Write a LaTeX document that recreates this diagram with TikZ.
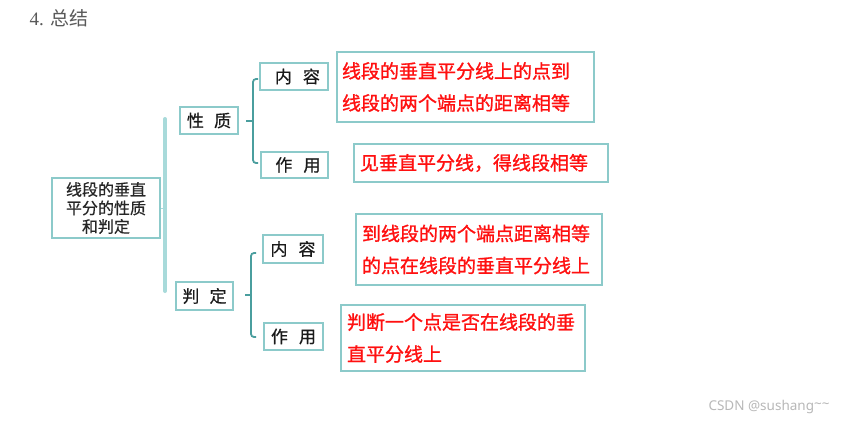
\documentclass[tikz,border=0pt]{standalone}
\usepackage{fontspec}
\setmainfont{Liberation Serif}
\newfontfamily\cjk{Noto Sans CJK SC}
\newfontfamily\cjkmed[FakeBold=0.6]{Noto Sans CJK SC}
\newfontfamily\cjkred[FakeBold=1.1]{Noto Sans CJK SC}
\newfontfamily\wmfont{Noto Sans}
\definecolor{boxline}{HTML}{8CCACA}
\definecolor{bigbr}{HTML}{A8DADA}
\definecolor{smallbr}{HTML}{4A9E9E}
\definecolor{redtxt}{HTML}{FF1010}
\definecolor{labeltxt}{HTML}{1A1A1A}
\begin{document}
\begin{tikzpicture}[x=1pt,y=-1pt,
  box/.style={draw=boxline,line width=1.6pt,inner sep=0pt,fill=white},
  lbl/.style={box,font=\cjkmed\fontsize{17}{19}\selectfont,text=labeltxt},
  redbox/.style={box,font=\cjkred\fontsize{19}{32}\selectfont,text=redtxt,align=left,inner xsep=5pt},
  smallbracket/.style={draw=smallbr,line width=1.8pt},
]
\useasboundingbox (0,0) rectangle (841,431);
\fill[white] (0,0) rectangle (841,431);

\node[font=\fontsize{19}{22}\selectfont,text=black!65,anchor=west] (title) at (26,18) {4. {\cjk 总结}};

% root
\node[box,minimum width=108pt,minimum height=60pt,align=center,
      font=\cjkmed\fontsize{16}{18.5}\selectfont,text=black!85] (root) at (106,208)
      {线段的垂直\\平分的性质\\和判定};

% big bracket
\coordinate (bbtop) at (165,119);
\coordinate (bbbot) at (165,291);
\coordinate (bbmid) at (165,208);
\draw[bigbr,line width=4pt,line cap=round] (bbtop) -- (bbbot);
\draw[bigbr,line width=0.8pt] (root.east) -- (bbmid);

\node[lbl,minimum width=58pt,minimum height=27pt] (xz) at (209,120.5) {性\hspace{0.6em}质};
\node[lbl,minimum width=57pt,minimum height=28pt] (pd) at (204.5,296) {判\hspace{0.6em}定};

% upper small bracket
\coordinate (ub1) at (258,79);
\coordinate (ub2) at (258,163);
\coordinate (ubt) at (246,121);
\draw[smallbracket] (ub1) -- ++(-2,0) to[out=180,in=90] ++(-3,3) -- ++(0,78) to[out=-90,in=180] ++(3,3) -- (ub2);
\draw[smallbracket] (253,121) -- (ubt);

% lower small bracket
\coordinate (lb1) at (256,253);
\coordinate (lb2) at (256,337);
\coordinate (lbt) at (245,295);
\draw[smallbracket] (lb1) -- ++(-2,0) to[out=180,in=90] ++(-3,3) -- ++(0,78) to[out=-90,in=180] ++(3,3) -- (lb2);
\draw[smallbracket] (251,295) -- (lbt);

\node[lbl,minimum width=68pt,minimum height=27pt] (nr1) at (294,76.5) {\hspace{0.4em}内\hspace{0.65em}容};
\node[lbl,minimum width=67pt,minimum height=26pt] (zy1) at (294.5,165) {\hspace{0.4em}作\hspace{0.65em}用};
\node[lbl,minimum width=60pt,minimum height=28pt] (nr2) at (293,249) {内\hspace{0.65em}容};
\node[lbl,minimum width=59pt,minimum height=27pt] (zy2) at (293.5,336.5) {作\hspace{0.65em}用};

\node[redbox,minimum width=257pt,minimum height=70pt,text width=247pt] (r1) at (465.5,87)
  {线段的垂直平分线上的点到\\线段的两个端点的距离相等};
\node[redbox,minimum width=254pt,minimum height=38pt,text width=242pt,inner xsep=6pt] (r2) at (481,163)
  {见垂直平分线，得线段相等};
\node[redbox,minimum width=246pt,minimum height=71pt,text width=234pt,inner xsep=6pt] (r3) at (479,249.5)
  {到线段的两个端点距离相等\\的点在线段的垂直平分线上};
\node[redbox,minimum width=244pt,minimum height=66pt,text width=232pt,inner xsep=6pt] (r4) at (463,338)
  {判断一个点是否在线段的垂\\直平分线上};

\node[font=\wmfont\fontsize{13.5}{15}\selectfont,text=black!28,anchor=west] (wm) at (705,407) {CSDN @sushang\raisebox{0.3ex}{\textasciitilde\textasciitilde}};
\end{tikzpicture}
\end{document}
